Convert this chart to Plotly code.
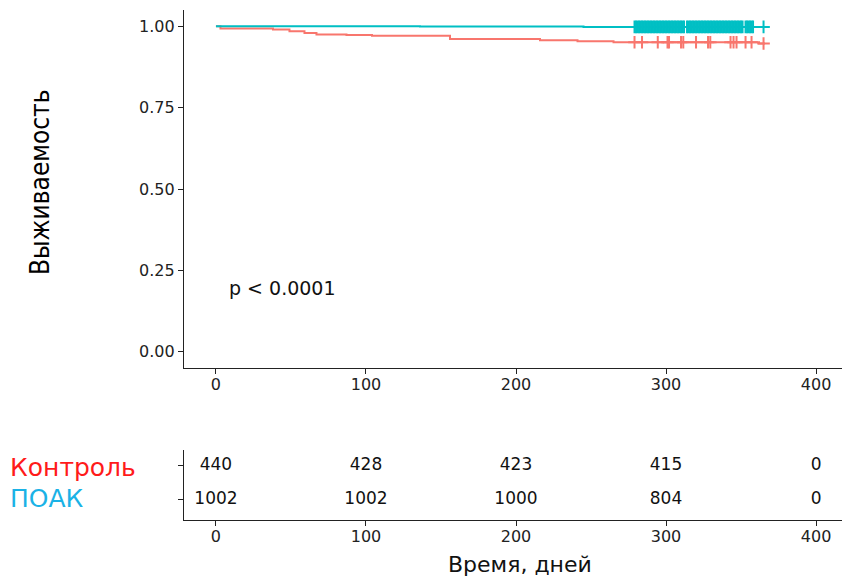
import plotly.graph_objects as go

# ---- data ----
ctrl_t = [0, 3, 38, 49, 59, 67, 87, 104, 156, 216, 241, 265, 362, 366]
ctrl_s = [1.0, 0.993, 0.990, 0.985, 0.979, 0.975, 0.973, 0.971, 0.961, 0.957, 0.954, 0.951, 0.947, 0.947]
poak_t = [0, 136, 245, 366]
poak_s = [1.0, 0.999, 0.998, 0.998]

ctrl_cens = [279, 284, 294.5, 301, 302, 310, 311.5, 320, 328, 329.5, 343, 345, 347, 353, 357, 365]
poak_cens = [279, 280, 281, 282, 283, 284, 285, 286, 287, 288, 289, 290, 291, 292, 293, 294, 295,
             296, 297, 298, 299, 300, 301, 302, 303, 304, 305, 306, 307, 308, 309, 310, 311, 312,
             314, 315, 316, 317, 318, 319, 320, 321, 322, 323, 324, 325, 326, 327, 328, 329, 330,
             331, 332, 333, 334, 335, 336, 337, 338, 339, 340, 341, 342, 343, 344, 345, 346, 347,
             348, 349, 350, 351, 353, 354, 355, 356, 357, 358, 365]

groups = ["Контроль", "ПОАК"]
risk_times = [0, 100, 200, 300, 400]
risk_ctrl = [440, 428, 423, 415, 0]
risk_poak = [1002, 1002, 1000, 804, 0]

x_ticks = [0, 100, 200, 300, 400]
y_ticks = [0.0, 0.25, 0.5, 0.75, 1.0]
y_ticklabels = ["0.00", "0.25", "0.50", "0.75", "1.00"]

c_ctrl = "#F8766D"
c_poak = "#00BFC4"
lbl_ctrl = "#FF1A1A"
lbl_poak = "#1AB2E6"

W, H = 842, 576


def step_y(times, surv, t):
    v = surv[0]
    for ti, si in zip(times, surv):
        if ti <= t:
            v = si
    return v


fig = go.Figure()
TF = "DejaVu Sans"

# survival curves
fig.add_trace(go.Scatter(x=ctrl_t, y=ctrl_s, mode="lines", line=dict(color=c_ctrl, width=2, shape="hv"),
                         xaxis="x", yaxis="y", showlegend=False, hoverinfo="skip"))
fig.add_trace(go.Scatter(x=poak_t, y=poak_s, mode="lines", line=dict(color=c_poak, width=2, shape="hv"),
                         xaxis="x", yaxis="y", showlegend=False, hoverinfo="skip"))
# censor marks
fig.add_trace(go.Scatter(x=ctrl_cens, y=[step_y(ctrl_t, ctrl_s, t) for t in ctrl_cens], mode="markers",
                         marker=dict(symbol="cross-thin", size=9, line=dict(color=c_ctrl, width=2)),
                         xaxis="x", yaxis="y", showlegend=False, hoverinfo="skip"))
fig.add_trace(go.Scatter(x=poak_cens, y=[step_y(poak_t, poak_s, t) for t in poak_cens], mode="markers",
                         marker=dict(symbol="cross-thin", size=9, line=dict(color=c_poak, width=2)),
                         xaxis="x", yaxis="y", showlegend=False, hoverinfo="skip"))

# risk table
fig.add_trace(go.Scatter(x=risk_times, y=[2] * len(risk_times), mode="text",
                         text=[str(v) for v in risk_ctrl], textfont=dict(family=TF, size=17, color="#111"),
                         xaxis="x2", yaxis="y2", showlegend=False, hoverinfo="skip"))
fig.add_trace(go.Scatter(x=risk_times, y=[1] * len(risk_times), mode="text",
                         text=[str(v) for v in risk_poak], textfont=dict(family=TF, size=17, color="#111"),
                         xaxis="x2", yaxis="y2", showlegend=False, hoverinfo="skip"))

xdom = [184 / W, 1.0]
xr = [-21.3, 417.3]
ax_common = dict(showline=True, linecolor="#222", linewidth=1.3, ticks="outside", ticklen=5,
                 tickcolor="#222", tickwidth=1.2, showgrid=False, zeroline=False,
                 tickfont=dict(family=TF, size=16, color="#222"), automargin=False)

fig.update_layout(
    width=W, height=H, margin=dict(l=0, r=0, t=0, b=0),
    paper_bgcolor="white", plot_bgcolor="white",
    xaxis=dict(domain=xdom, range=xr, tickvals=x_ticks, anchor="y", ticklabelstandoff=-3, **ax_common),
    yaxis=dict(domain=[1 - 368 / H, 1 - 10 / H], range=[-0.05, 1.05], tickvals=y_ticks,
               ticktext=y_ticklabels, anchor="x", **ax_common),
    xaxis2=dict(domain=xdom, range=xr, tickvals=x_ticks, anchor="y2", ticklabelstandoff=-3, **ax_common),
    yaxis2=dict(domain=[1 - 520 / H, 1 - 450 / H], range=[0.41, 2.47], tickvals=[1, 2],
                ticktext=["", ""], anchor="x2", **ax_common),
    annotations=[
        dict(text="p < 0.0001", x=7.5, y=0.197, xref="x", yref="y", xanchor="left", yanchor="middle",
             showarrow=False, font=dict(family=TF, size=19, color="#111")),
        dict(text="Выживаемость", x=40 / W, y=1 - 182 / H, xref="paper", yref="paper",
             xanchor="center", yanchor="middle", textangle=-90, showarrow=False,
             font=dict(family="DejaVu Sans Condensed, Liberation Sans", size=26, color="#000")),
        dict(text=groups[0], x=8 / W, y=1 - 467 / H, xref="paper", yref="paper", xanchor="left",
             yanchor="middle", showarrow=False, font=dict(family=TF, size=25, color=lbl_ctrl)),
        dict(text=groups[1], x=8 / W, y=1 - 498 / H, xref="paper", yref="paper", xanchor="left",
             yanchor="middle", showarrow=False, font=dict(family=TF, size=25, color=lbl_poak)),
        dict(text="Время, дней", x=520 / W, y=1 - 564 / H, xref="paper", yref="paper", xanchor="center",
             yanchor="middle", showarrow=False, font=dict(family=TF, size=22, color="#111")),
    ],
)

fig.write_html("out.html")
